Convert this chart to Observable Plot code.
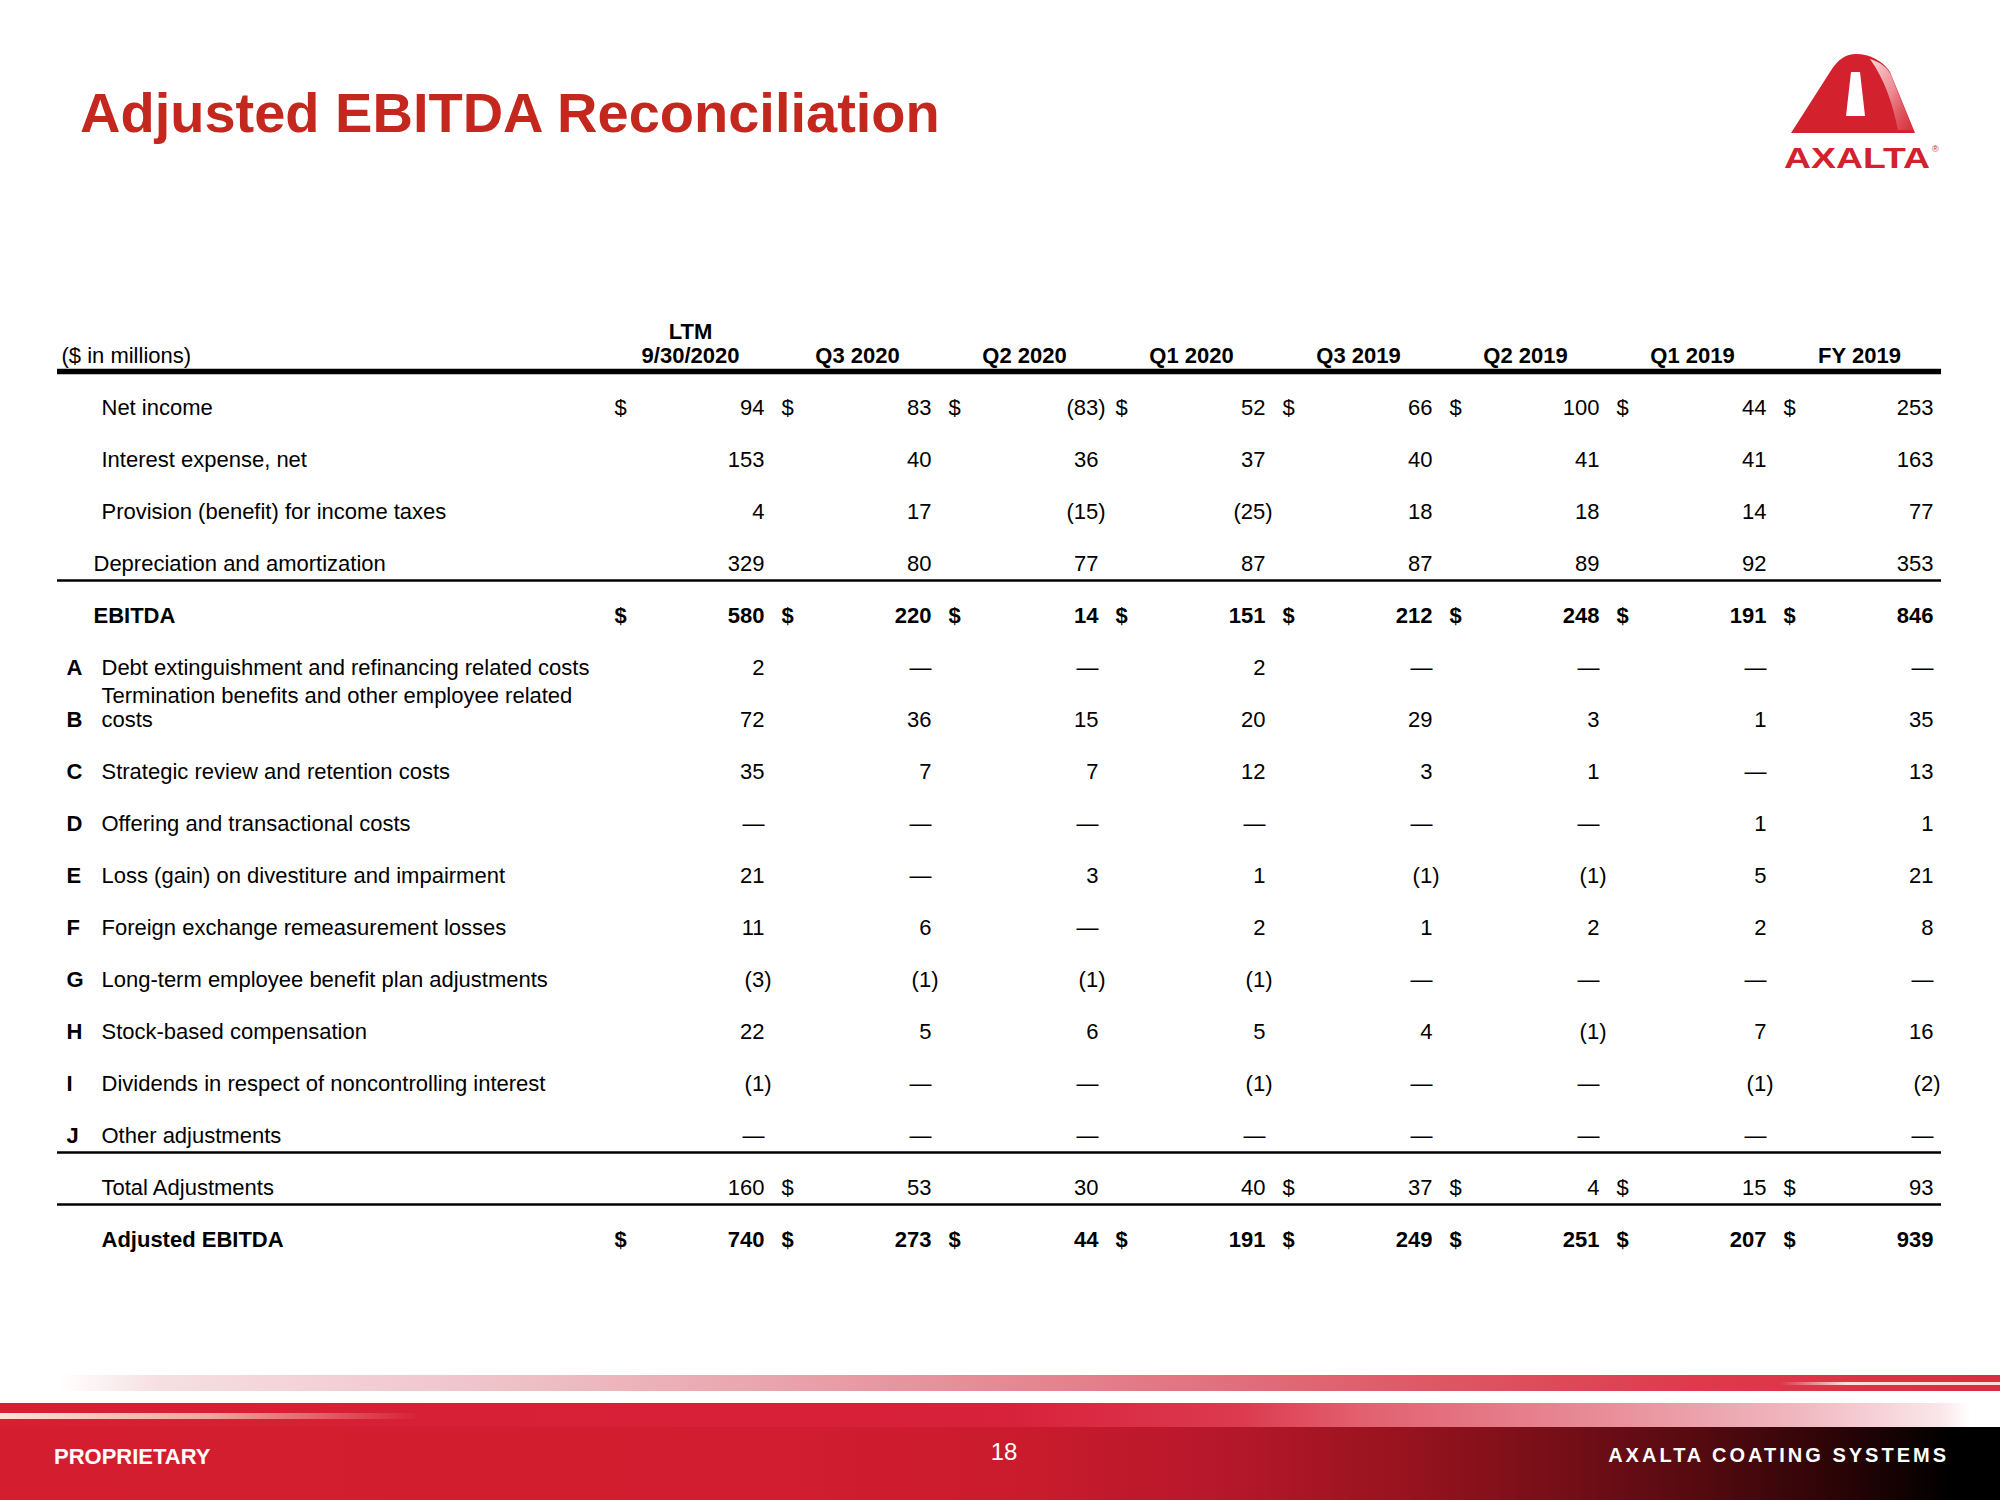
<!DOCTYPE html>
<html>
<head>
<meta charset="utf-8">
<script src="https://cdn.jsdelivr.net/npm/d3@7"></script>
<script src="https://cdn.jsdelivr.net/npm/@observablehq/plot@0.6"></script>
<style>
html, body { margin: 0; padding: 0; background: #fff; }
#slide { position: relative; width: 2000px; height: 1500px; overflow: hidden; font-family: "Liberation Sans", Arial, sans-serif; background: #fff; }
#title { position: absolute; left: 80px; top: 85px; margin: 0; font-size: 56px; line-height: 56px; font-weight: bold; color: #c4271e; white-space: nowrap; }
#chart { position: absolute; left: 0; top: 300px; }
#logo { position: absolute; left: 1770px; top: 40px; }
.band { position: absolute; left: 0; width: 2000px; }
#stripe1 { top: 1375px; height: 16px; background: linear-gradient(to right, #ffffff 0%, #ffffff 3%, #f6dfe2 8%, #efc2c8 25%, #e8a1aa 40%, #e47e8a 55%, #e05a69 70%, #dd3a4c 85%, #dc2c3f 100%); }
#stripe1hl { top: 1382px; height: 3px; left: 1780px; width: 220px; background: linear-gradient(to right, rgba(255,255,255,0) 0%, rgba(255,240,235,0.9) 30%, rgba(255,240,235,0.9) 100%); }
#bandTop { top: 1403px; height: 24px; background: linear-gradient(to right, #d61f31 0%, #d8213a 50%, #dc3a4f 62%, #e2606f 68%, #e88c98 80%, #f0b8c0 90%, #fae6e9 97%, #ffffff 98.5%, #ffffff 100%); }
#bandTopHl { top: 1413px; height: 6px; left: 0; width: 420px; background: linear-gradient(to right, rgba(255,235,225,0.95) 0%, rgba(250,200,185,0.8) 50%, rgba(240,120,110,0) 100%); }
#bandMain { top: 1427px; height: 73px; background: linear-gradient(to right, #d41e30 0%, #d11d2f 40%, #c81b2c 52%, #b4172a 62%, #98131f 70%, #7a0f18 77%, #550a10 85%, #2a0406 92%, #000000 97.5%, #000000 100%); }
.foot { position: absolute; color: #fff; white-space: nowrap; height: 34px; line-height: 34px; }
#prop { left: 54px; top: 1440px; font-size: 22px; font-weight: bold; }
#page { left: 964px; width: 80px; text-align: center; top: 1435px; font-size: 24px; }
#brand { right: 51px; top: 1438px; font-size: 20px; font-weight: bold; letter-spacing: 3px; }
</style>
</head>
<body>
<div id="slide">
  <h1 id="title">Adjusted EBITDA Reconciliation</h1>
  <svg id="logo" width="180" height="140" viewBox="1770 40 180 140">
    <defs>
      <linearGradient id="gloss" x1="0" y1="0" x2="1" y2="1">
        <stop offset="0" stop-color="#fbe3e5" stop-opacity="0.95"/>
        <stop offset="0.5" stop-color="#f1a3aa" stop-opacity="0.8"/>
        <stop offset="1" stop-color="#e25561" stop-opacity="0.3"/>
      </linearGradient>
    </defs>
    <path d="M1791,133 L1830,72 C1838,59 1846,54 1856,54 C1870,54 1883,61 1890,72 L1915,133 Z" fill="#d3222e"/>
    <path d="M1870,59 C1880,62 1887,67 1891,75 L1913,130 L1898,130 C1893,105 1885,80 1870,59 Z" fill="url(#gloss)"/>
    <path d="M1851,72 L1860,72 L1865,116 L1846,116 Z" fill="#ffffff"/>
    <text x="1784" y="168" font-family="Liberation Sans, Arial, sans-serif" font-weight="bold" font-size="29" fill="#d3222e" textLength="146" lengthAdjust="spacingAndGlyphs">AXALTA</text>
    <text x="1932" y="152" font-family="Liberation Sans, Arial, sans-serif" font-size="9" fill="#d3222e">®</text>
  </svg>
  <div id="chart"></div>
  <div class="band" id="stripe1"></div>
  <div class="band" id="stripe1hl"></div>
  <div class="band" id="bandTop"></div>
  <div class="band" id="bandTopHl"></div>
  <div class="band" id="bandMain"></div>
  <div class="foot" id="prop">PROPRIETARY</div>
  <div class="foot" id="page">18</div>
  <div class="foot" id="brand">AXALTA COATING SYSTEMS</div>
</div>
<script>
// ---------- data ----------
const columns = ["LTM\n9/30/2020", "Q3 2020", "Q2 2020", "Q1 2020", "Q3 2019", "Q2 2019", "Q1 2019", "FY 2019"];
const rowKeys = ["net", "interest", "tax", "da", "ebitda", "A", "B", "C", "D", "E", "F", "G", "H", "I", "J", "total", "adj"];
const rowLabels = [
  "Net income",
  "Interest expense, net",
  "Provision (benefit) for income taxes",
  "Depreciation and amortization",
  "EBITDA",
  "Debt extinguishment and refinancing related costs",
  "Termination benefits and other employee related\ncosts",
  "Strategic review and retention costs",
  "Offering and transactional costs",
  "Loss (gain) on divestiture and impairment",
  "Foreign exchange remeasurement losses",
  "Long-term employee benefit plan adjustments",
  "Stock-based compensation",
  "Dividends in respect of noncontrolling interest",
  "Other adjustments",
  "Total Adjustments",
  "Adjusted EBITDA"
];
const rowLetters = ["", "", "", "", "", "A", "B", "C", "D", "E", "F", "G", "H", "I", "J", "", ""];
const boldRows = ["ebitda", "adj"];
const outdentRows = ["da", "ebitda"];
const thickRuleRows = ["header"];
const thinRuleRows = ["da", "J", "total"];
const unitLabel = "($ in millions)";

// values (null = "—")
const netIncome      = [94, 83, -83, 52, 66, 100, 44, 253];
const interestExp    = [153, 40, 36, 37, 40, 41, 41, 163];
const incomeTaxes    = [4, 17, -15, -25, 18, 18, 14, 77];
const deprAmort      = [329, 80, 77, 87, 87, 89, 92, 353];
const ebitda         = [580, 220, 14, 151, 212, 248, 191, 846];
const adjA           = [2, null, null, 2, null, null, null, null];
const adjB           = [72, 36, 15, 20, 29, 3, 1, 35];
const adjC           = [35, 7, 7, 12, 3, 1, null, 13];
const adjD           = [null, null, null, null, null, null, 1, 1];
const adjE           = [21, null, 3, 1, -1, -1, 5, 21];
const adjF           = [11, 6, null, 2, 1, 2, 2, 8];
const adjG           = [-3, -1, -1, -1, null, null, null, null];
const adjH           = [22, 5, 6, 5, 4, -1, 7, 16];
const adjI           = [-1, null, null, -1, null, null, -1, -2];
const adjJ           = [null, null, null, null, null, null, null, null];
const totalAdj       = [160, 53, 30, 40, 37, 4, 15, 93];
const adjustedEbitda = [740, 273, 44, 191, 249, 251, 207, 939];

const seriesByRow = [netIncome, interestExp, incomeTaxes, deprAmort, ebitda, adjA, adjB, adjC, adjD, adjE, adjF, adjG, adjH, adjI, adjJ, totalAdj, adjustedEbitda];

// which columns carry a "$" sign, per row
const dollarNet   = columns;
const dollarEbit  = columns;
const dollarTotal = ["Q3 2020", "Q3 2019", "Q2 2019", "Q1 2019", "FY 2019"];
const dollarAdj   = columns;

// ---------- build tables ----------
const rows = rowKeys.map((k, i) => ({key: k, label: rowLabels[i], letter: rowLetters[i]}));
const cells = rowKeys.flatMap((k, i) => columns.map((c, j) => ({row: k, col: c, v: seriesByRow[i][j]})));
const fmt = v => v == null ? "\u2014" : v < 0 ? `(${-v})` : String(v);
const dollars = [
  ...dollarNet.map(c => ({row: "net", col: c})),
  ...dollarEbit.map(c => ({row: "ebitda", col: c})),
  ...dollarTotal.map(c => ({row: "total", col: c})),
  ...dollarAdj.map(c => ({row: "adj", col: c}))
];

const isBold = r => boldRows.includes(r);
const singleLine = rows.filter(r => !r.label.includes("\n"));
const multiLine = rows.filter(r => r.label.includes("\n"));

const labelDx = r => r.letter ? 44 : outdentRows.includes(r.key) ? 36 : 44;

function labelMarks(data, opts) {
  const groups = [
    {f: r => !isBold(r.key) && labelDx(r) === 44, dx: 44, w: "normal"},
    {f: r => !isBold(r.key) && labelDx(r) === 36, dx: 36, w: "normal"},
    {f: r => isBold(r.key) && labelDx(r) === 44, dx: 44, w: "bold"},
    {f: r => isBold(r.key) && labelDx(r) === 36, dx: 36, w: "bold"}
  ];
  return groups.map(g => Plot.text(data.filter(g.f), {
    y: "key", text: "label", frameAnchor: "left", textAnchor: "start",
    dx: g.dx, fontWeight: g.w, ...opts
  }));
}

function valueMarks(bold) {
  const base = cells.filter(d => isBold(d.row) === bold);
  const w = bold ? "bold" : "normal";
  return [
    Plot.text(base.filter(d => !(d.v < 0)), {x: "col", y: "row", text: d => fmt(d.v), textAnchor: "end", fontWeight: w}),
    Plot.text(base.filter(d => d.v < 0), {x: "col", y: "row", text: d => fmt(d.v), textAnchor: "end", dx: 7, fontWeight: w})
  ];
}

const chart = Plot.plot({
  width: 2000,
  height: 980,
  marginLeft: 57,
  marginRight: 59,
  marginTop: 0,
  marginBottom: 0,
  x: {type: "point", domain: columns, range: [763, 1933], padding: 0, align: 0.5, axis: null},
  y: {type: "point", domain: ["header", ...rowKeys], range: [54, 939], padding: 0, align: 0.5, axis: null},
  style: {fontSize: "22px", fontFamily: "'Liberation Sans', Arial, Helvetica, sans-serif", background: "transparent", color: "#000", overflow: "visible"},
  marks: [
    // rules
    Plot.ruleY(thickRuleRows, {y: d => d, dy: 16, stroke: "#000", strokeWidth: 5.5}),
    Plot.ruleY(thinRuleRows, {y: d => d, dy: 17, stroke: "#000", strokeWidth: 2.7}),
    // header
    Plot.text(columns, {x: d => d, y: () => "header", text: d => d, dx: -74, dy: 7, lineAnchor: "bottom", lineHeight: 1.05, textAnchor: "middle", fontWeight: "bold"}),
    Plot.text([unitLabel], {y: () => "header", text: d => d, frameAnchor: "left", textAnchor: "start", dx: 4, dy: 7, lineAnchor: "bottom"}),
    // row labels
    ...labelMarks(singleLine, {}),
    ...labelMarks(multiLine, {lineAnchor: "bottom", dy: 7, lineHeight: 1.05}),
    // letters
    Plot.text(rows.filter(r => r.letter), {y: "key", text: "letter", frameAnchor: "left", textAnchor: "start", dx: 9, fontWeight: "bold"}),
    // values
    ...valueMarks(false),
    ...valueMarks(true),
    // dollar signs
    Plot.text(dollars.filter(d => !isBold(d.row)), {x: "col", y: "row", text: () => "$", textAnchor: "start", dx: -150}),
    Plot.text(dollars.filter(d => isBold(d.row)), {x: "col", y: "row", text: () => "$", textAnchor: "start", dx: -150, fontWeight: "bold"})
  ]
});
document.getElementById("chart").appendChild(chart);
</script>
</body>
</html>
